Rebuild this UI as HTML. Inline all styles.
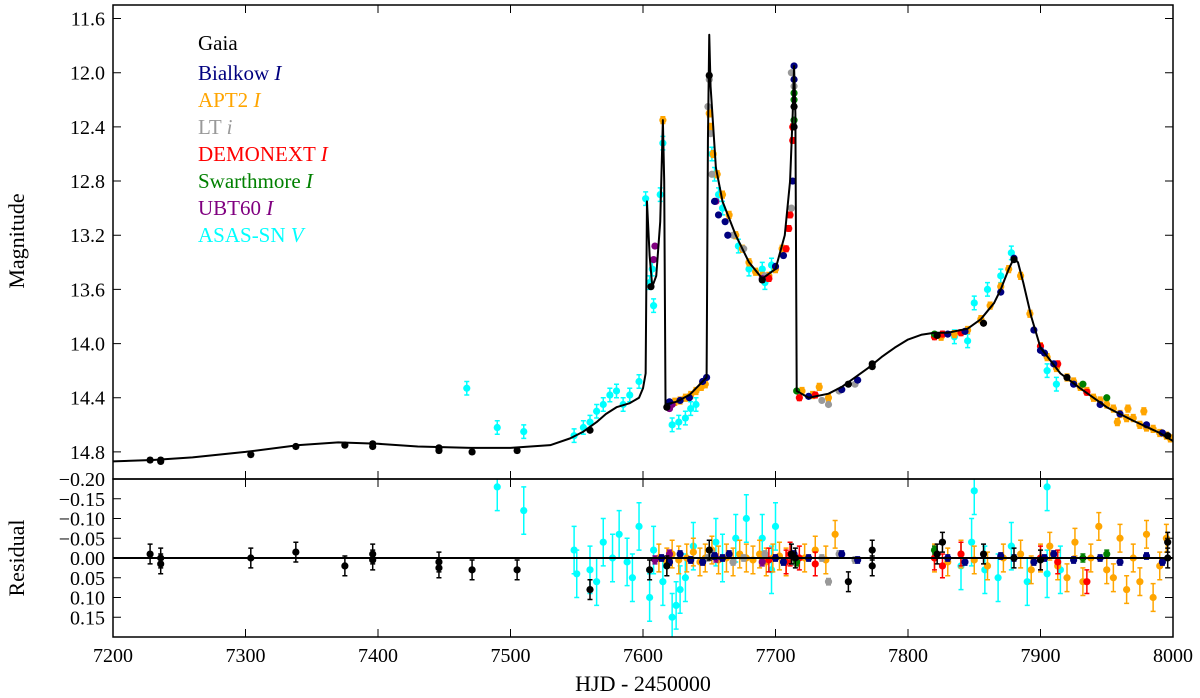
<!DOCTYPE html>
<html><head><meta charset="utf-8"><style>
body{margin:0;background:#fff}
svg{display:block;font-family:"Liberation Serif",serif}
</style></head><body>
<svg id="chart" width="1200" height="698" viewBox="0 0 1200 698">
<defs>
<clipPath id="cm"><rect x="113" y="5" width="1060" height="474"/></clipPath>
<clipPath id="cr"><rect x="113" y="479" width="1060" height="158"/></clipPath>
</defs>
<g id="main" clip-path="url(#cm)"></g>
<g id="resid" clip-path="url(#cr)"></g>
<g id="axes"></g>
<g font-size="21">
<text x="198" y="50" fill="#000">Gaia</text>
<text x="198" y="80" fill="#00007f">Bialkow <tspan font-style="italic">I</tspan></text>
<text x="198" y="107" fill="#ffa500">APT2 <tspan font-style="italic">I</tspan></text>
<text x="198" y="134" fill="#999999">LT <tspan font-style="italic">i</tspan></text>
<text x="198" y="161" fill="#ff0000">DEMONEXT <tspan font-style="italic">I</tspan></text>
<text x="198" y="188" fill="#008000">Swarthmore <tspan font-style="italic">I</tspan></text>
<text x="198" y="215" fill="#800080">UBT60 <tspan font-style="italic">I</tspan></text>
<text x="198" y="242" fill="#00ffff">ASAS-SN <tspan font-style="italic">V</tspan></text>
</g>
<text x="643" y="691" font-size="22" text-anchor="middle">HJD - 2450000</text>
<text transform="translate(24,241) rotate(-90)" font-size="22" text-anchor="middle">Magnitude</text>
<text transform="translate(24,558) rotate(-90)" font-size="22" text-anchor="middle">Residual</text>
</svg>
<script>
const modelT=[7200,7230,7260,7300,7340,7370,7400,7430,7470,7500,7530,7545,7555,7565,7572,7580,7590,7597,7600,7602,7603,7605,7607,7610,7613,7615,7616,7617,7625,7635,7645,7648,7649,7650,7651,7655,7660,7670,7680,7690,7700,7707,7711,7713,7714,7715,7716,7725,7740,7750,7760,7770,7780,7790,7800,7810,7820,7830,7845,7855,7865,7870,7876,7880,7883,7887,7893,7900,7915,7930,7950,7970,7990,8000];
const modelM=[14.87,14.86,14.84,14.80,14.75,14.73,14.74,14.76,14.77,14.77,14.75,14.70,14.65,14.58,14.52,14.47,14.44,14.40,14.33,14.22,12.95,13.35,13.58,13.50,13.1,12.35,12.8,14.45,14.43,14.38,14.28,14.25,12.5,11.72,12.1,12.7,12.95,13.2,13.4,13.52,13.45,13.2,12.8,12.3,11.95,12.3,14.35,14.4,14.37,14.32,14.25,14.18,14.10,14.03,13.97,13.935,13.92,13.92,13.89,13.82,13.70,13.6,13.45,13.37,13.40,13.55,13.80,14.03,14.22,14.33,14.47,14.57,14.66,14.72];
const gaiaT=[7228,7236,7236,7304,7338,7375,7396,7396,7446,7446,7471,7505,7560,7606,7618,7650,7690,7714,7714,7755,7773,7773,7822,7857,7880,7920,7996];
const gaiaM=[14.86,14.86,14.87,14.82,14.76,14.75,14.74,14.76,14.77,14.79,14.8,14.79,14.64,13.58,14.47,12.02,13.53,12.4,12.25,14.3,14.17,14.15,13.94,13.85,13.38,14.25,14.68];
const navyT=[7714,7714,7713,7620,7628,7635,7645,7648,7654,7657,7662,7664,7700,7706,7725,7750,7762,7830,7843,7870,7880,7895,7900,7903,7910,7925,7945,7960,7980,7992];
const navyM=[11.95,12.05,12.8,14.43,14.42,14.40,14.28,14.25,12.95,13.05,13.1,13.2,13.43,13.35,14.39,14.34,14.27,13.93,13.91,13.62,13.37,13.9,14.05,14.07,14.15,14.3,14.45,14.52,14.6,14.66];
const orangeT=[7615,7620,7624,7628,7632,7636,7640,7644,7647,7650,7651,7653,7656,7660,7665,7670,7675,7680,7685,7690,7695,7700,7705,7720,7728,7733,7740,7825,7835,7845,7855,7862,7870,7876,7885,7892,7900,7905,7912,7920,7925,7930,7935,7940,7945,7950,7955,7960,7965,7970,7975,7980,7985,7990,7995,7998,7978,7966,7958];
const orangeM=[12.35,14.45,14.43,14.42,14.40,14.38,14.35,14.32,14.30,12.3,12.4,12.6,12.75,12.9,13.05,13.2,13.3,13.4,13.47,13.5,13.5,13.45,13.3,14.35,14.38,14.32,14.40,13.95,13.93,13.9,13.82,13.72,13.58,13.45,13.5,13.78,14.02,14.1,14.18,14.25,14.28,14.32,14.35,14.40,14.42,14.45,14.48,14.52,14.55,14.55,14.6,14.62,14.63,14.66,14.68,14.7,14.5,14.48,14.58];
const greyT=[7650,7649,7651,7652,7714,7712,7668,7676,7692,7735,7740,7748,7760,7712];
const greyM=[12.05,12.25,12.45,12.75,12.1,13.0,13.2,13.3,13.5,14.42,14.45,14.35,14.3,12.0];
const redT=[7713,7713,7711,7710,7708,7718,7730,7695,7820,7826,7840,7900,7913,7935];
const redM=[12.4,12.5,13.05,13.15,13.3,14.4,14.38,13.52,13.95,13.93,13.92,14.02,14.15,14.36];
const greenT=[7714,7714,7714,7716,7820,7932,7950];
const greenM=[12.15,12.2,12.35,14.35,13.93,14.3,14.4];
const purpleT=[7609,7608,7620,7622,7655,7690];
const purpleM=[13.28,13.38,14.48,14.45,12.95,13.52];
const cyanT=[7467,7490,7510,7548,7555,7560,7565,7570,7575,7580,7585,7590,7597,7602,7605,7607,7608,7613,7615,7622,7627,7632,7636,7640,7652,7654,7657,7660,7690,7697,7692,7672,7680,7878,7860,7870,7850,7905,7912,7835,7845];
const cyanM=[14.33,14.62,14.65,14.68,14.62,14.58,14.5,14.45,14.38,14.35,14.45,14.38,14.28,12.93,13.55,13.45,13.72,12.9,12.52,14.6,14.58,14.55,14.48,14.45,12.6,12.75,12.9,13.0,13.45,13.42,13.55,13.28,13.45,13.33,13.6,13.5,13.7,14.2,14.3,13.95,13.98];
// residuals
const rGaiaT=[7228,7236,7236,7304,7338,7375,7396,7396,7446,7446,7471,7505,7560,7605,7618,7650,7712,7715,7755,7773,7773,7822,7826,7857,7880,7900,7996,7996];
const rGaiaV=[-0.01,0.0,0.015,0.0,-0.015,0.02,-0.01,0.005,0.01,0.025,0.03,0.03,0.08,0.03,0.02,-0.02,-0.01,0.0,0.06,-0.02,0.02,-0.01,-0.04,-0.01,0.0,0.005,0.0,-0.04];
const rCyanT=[7490,7510,7548,7550,7560,7565,7570,7577,7582,7588,7592,7597,7605,7608,7615,7622,7625,7628,7632,7638,7655,7660,7670,7678,7690,7697,7700,7840,7848,7850,7858,7868,7878,7890,7905,7905,7915];
const rCyanV=[-0.18,-0.12,-0.02,0.04,0.03,0.06,-0.04,0.0,-0.06,0.01,0.05,-0.08,0.1,-0.02,0.06,0.15,0.12,0.08,0.05,-0.03,-0.04,0.0,-0.05,-0.1,-0.05,0.03,-0.08,0.02,-0.04,-0.17,0.03,0.05,-0.03,0.06,-0.18,0.04,0.03];
const rOrangeT=[7612,7618,7622,7627,7633,7638,7643,7647,7652,7657,7663,7668,7673,7678,7683,7688,7693,7698,7703,7708,7722,7730,7738,7745,7820,7830,7840,7850,7860,7872,7885,7893,7900,7907,7913,7920,7926,7932,7938,7944,7950,7955,7960,7965,7970,7975,7980,7985,7990,7995];
const rOrangeV=[0.0,0.01,-0.01,0.005,0.0,-0.015,0.01,0.0,-0.02,0.005,0.0,0.01,-0.01,0.0,0.005,-0.01,0.01,0.0,-0.005,0.01,0.0,-0.02,0.005,-0.06,0.0,0.01,-0.01,0.005,0.02,0.0,-0.01,0.03,0.0,-0.03,0.02,0.05,-0.04,0.06,0.0,-0.08,0.03,0.05,-0.05,0.08,0.0,0.06,-0.06,0.1,0.02,-0.05];
const rNavyT=[7614,7620,7628,7636,7645,7654,7660,7665,7700,7706,7714,7725,7750,7762,7830,7843,7870,7880,7895,7903,7910,7925,7945,7960,7980,7992];
const rNavyV=[0.0,0.01,-0.01,0.005,0.01,-0.005,0.0,-0.01,0.0,0.01,-0.01,0.0,-0.01,0.005,0.0,0.01,-0.005,0.0,0.01,0.0,-0.01,0.005,0.0,0.01,-0.005,0.01];
const rGreyT=[7649,7652,7668,7676,7692,7712,7735,7740,7748,7760];
const rGreyV=[0.0,-0.01,0.01,0.0,-0.01,0.01,0.0,0.06,-0.01,0.005];
const rRedT=[7695,7708,7711,7718,7730,7820,7826,7840,7900,7913,7935];
const rRedV=[0.005,0.01,-0.01,0.0,0.015,0.0,0.02,-0.01,0.0,0.01,0.06];
const rGreenT=[7714,7716,7820,7932,7950];
const rGreenV=[-0.005,0.01,-0.02,0.0,-0.01];
const rPurpleT=[7609,7620,7655,7690];
const rPurpleV=[0.005,-0.01,0.0,0.01];

const NS='http://www.w3.org/2000/svg';
const X=t=>113+(t-7200)*1060/800;
const YM=m=>5+(m-11.5)*474/3.5;
const YR=r=>479+(r+0.2)*158/0.4;
function mk(tag,attrs,parent){const e=document.createElementNS(NS,tag);for(const k in attrs)e.setAttribute(k,attrs[k]);parent.appendChild(e);return e;}
const main=document.getElementById('main'),resid=document.getElementById('resid'),axes=document.getElementById('axes');

function series(T,V,Y,col,err,parent,name){
  const g=mk('g',{},parent);
  
  
  T.forEach((t,i)=>{
    const x=X(t),y=Y(V[i]),e=Math.abs(Y(V[i]+err)-y);
    const l=mk('path',{d:`M${x},${y-e}V${y+e}M${x-2.5},${y-e}h5M${x-2.5},${y+e}h5`,stroke:col,'stroke-width':1.5,fill:'none'},g);
    
    
    const c=mk('circle',{cx:x,cy:y,r:3.6,fill:col},g);
    
    
  });
}
series(cyanT,cyanM,YM,'#00ffff',0.05,main,'asassn-points');
series(orangeT,orangeM,YM,'#ffa500',0.025,main,'apt2-points');
series(greyT,greyM,YM,'#999999',0.01,main,'lt-points');
series(redT,redM,YM,'#ff0000',0.02,main,'demonext-points');
series(greenT,greenM,YM,'#008000',0.01,main,'swarthmore-points');
series(purpleT,purpleM,YM,'#800080',0.01,main,'ubt60-points');
series(navyT,navyM,YM,'#00007f',0.01,main,'bialkow-points');
series(gaiaT,gaiaM,YM,'#000000',0.015,main,'gaia-points');
const ml=mk('polyline',{points:modelT.map((t,i)=>X(t)+','+YM(modelM[i])).join(' '),fill:'none',stroke:'#000','stroke-width':2,'stroke-linejoin':'round'},main);


series(rCyanT,rCyanV,YR,'#00ffff',0.06,resid,'asassn-residuals');
series(rOrangeT,rOrangeV,YR,'#ffa500',0.035,resid,'apt2-residuals');
series(rGreyT,rGreyV,YR,'#999999',0.008,resid,'lt-residuals');
series(rRedT,rRedV,YR,'#ff0000',0.03,resid,'demonext-residuals');
series(rGreenT,rGreenV,YR,'#008000',0.01,resid,'swarthmore-residuals');
series(rPurpleT,rPurpleV,YR,'#800080',0.01,resid,'ubt60-residuals');
series(rNavyT,rNavyV,YR,'#00007f',0.008,resid,'bialkow-residuals');
series(rGaiaT,rGaiaV,YR,'#000000',0.025,resid,'gaia-residuals');
const zl=mk('line',{x1:113,x2:1173,y1:YR(0),y2:YR(0),stroke:'#000','stroke-width':2},resid);



const xTicks=[7200,7300,7400,7500,7600,7700,7800,7900,8000];
const mTicks=[11.6,12.0,12.4,12.8,13.2,13.6,14.0,14.4,14.8];
const rTicks=[-0.20,-0.15,-0.10,-0.05,0.00,0.05,0.10,0.15];
const f1=mk('rect',{x:113,y:5,width:1060,height:474,fill:'none',stroke:'#000','stroke-width':1.5},axes);

const f2=mk('rect',{x:113,y:479,width:1060,height:158,fill:'none',stroke:'#000','stroke-width':1.5},axes);

xTicks.forEach(t=>{
  const x=X(t);
  mk('path',{d:`M${x},5v8M${x},479v-8M${x},479v8M${x},637v-8`,stroke:'#000','stroke-width':1},axes);
  const tx=mk('text',{x:x,y:662,'font-size':20,'text-anchor':'middle'},axes);
  tx.textContent=t;
  
  
});
mTicks.forEach(m=>{
  const y=YM(m);
  mk('path',{d:`M113,${y}h8M1173,${y}h-8`,stroke:'#000','stroke-width':1},axes);
  const tx=mk('text',{x:105,y:y+7,'font-size':20,'text-anchor':'end'},axes);
  tx.textContent=m.toFixed(1);
  
  
});
rTicks.forEach(r=>{
  const y=YR(r);
  mk('path',{d:`M113,${y}h8M1173,${y}h-8`,stroke:'#000','stroke-width':1},axes);
  const tx=mk('text',{x:105,y:y+7,'font-size':20,'text-anchor':'end'},axes);
  tx.textContent=(r<0?'\u2212':'')+Math.abs(r).toFixed(2);
  
  
});
</script>
</body></html>
